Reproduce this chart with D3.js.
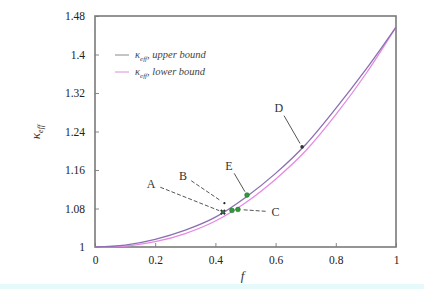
<!DOCTYPE html>
<html>
<head>
<meta charset="utf-8">
<script src="https://cdn.jsdelivr.net/npm/d3@7"></script>
<style>
  body { margin: 0; background: #fff; }
  svg text { font-family: "Liberation Serif", "DejaVu Serif", serif !important; }
</style>
</head>
<body>
<div id="chart"></div>
<script>
// Volume fraction f and effective kappa bounds
var fValues = [0, 0.1, 0.2, 0.3, 0.4, 0.5, 0.6, 0.7, 0.8, 0.9, 1];
var upperBound = [1, 1.004, 1.016, 1.035, 1.062, 1.103, 1.153, 1.213, 1.288, 1.369, 1.457];
var lowerBound = [1, 1.002, 1.011, 1.028, 1.054, 1.092, 1.141, 1.200, 1.275, 1.360, 1.457];

var xTicks = [0, 0.2, 0.4, 0.6, 0.8, 1];
var yTicks = [1, 1.08, 1.16, 1.24, 1.32, 1.4, 1.48];

// marked samples
var pointNames = ["A", "B", "C1", "C", "E", "D"];
var pointF = [0.425, 0.43, 0.455, 0.475, 0.505, 0.688];
var pointK = [1.0725, 1.091, 1.076, 1.078, 1.108, 1.208];
var pointKind = ["star", "dot", "green", "green", "green", "dark"];

// annotation labels (name -> label position in data units)
var labelNames = ["A", "B", "C", "E", "D"];
var labelF = [0.186, 0.292, 0.60, 0.445, 0.611];
var labelK = [1.131, 1.148, 1.073, 1.169, 1.289];

var margin = {top: 16, right: 28, bottom: 42, left: 95},
	width = 424 - margin.left - margin.right,
	height = 289 - margin.top - margin.bottom;

var svg = d3.select("#chart")
	.append("svg")
	.attr("width", 424)
	.attr("height", 289);

// pale strip at the bottom of the scan
svg.append("rect")
	.attr("x", 0).attr("y", 284)
	.attr("width", 424).attr("height", 5)
	.attr("fill", "#e6fafc");

var g = svg.append("g")
	.attr("transform", "translate(" + margin.left + "," + margin.top + ")");

var x = d3.scaleLinear().domain([0, 1]).range([0, width]);
var y = d3.scaleLinear().domain([1, 1.48]).range([height, 0]);

// axes with inward ticks
g.append("g")
	.attr("transform", "translate(0," + height + ")")
	.call(d3.axisBottom(x).tickValues(xTicks).tickSize(-4).tickPadding(9)
		.tickFormat(function(d) { return d3.format("")(d); }))
	.call(function(a) {
		a.attr("font-family", null);
		a.select(".domain").remove();
		a.selectAll("line").attr("stroke", "#888");
		a.selectAll("text").attr("fill", "#222").style("font-size", "11.5px");
	});

g.append("g")
	.call(d3.axisLeft(y).tickValues(yTicks).tickSize(-4).tickPadding(10)
		.tickFormat(function(d) { return d3.format("")(+d.toFixed(2)); }))
	.call(function(a) {
		a.attr("font-family", null);
		a.select(".domain").remove();
		a.selectAll("line").attr("stroke", "#888");
		a.selectAll("text").attr("fill", "#222").style("font-size", "11.5px");
	});

// frame
g.append("rect")
	.attr("width", width).attr("height", height)
	.attr("fill", "none")
	.attr("stroke", "#7a7a7a")
	.attr("stroke-width", 1.6);

// curves
var line = d3.line()
	.x(function(d) { return x(d[0]); })
	.y(function(d) { return y(d[1]); })
	.curve(d3.curveMonotoneX);

g.append("path")
	.datum(fValues.map(function(f, i) { return [f, lowerBound[i]]; }))
	.attr("d", line)
	.attr("fill", "none")
	.attr("stroke", "#e58ae6")
	.attr("stroke-width", 1.3);

g.append("path")
	.datum(fValues.map(function(f, i) { return [f, upperBound[i]]; }))
	.attr("d", line)
	.attr("fill", "none")
	.attr("stroke", "#8a70b0")
	.attr("stroke-width", 1.3);

// annotation arrows
labelNames.forEach(function(name, i) {
	var j = pointNames.indexOf(name);
	var lx = x(labelF[i]), ly = y(labelK[i]);
	var px = x(pointF[j]), py = y(pointK[j]);
	var dx = px - lx, dy = py - ly, len = Math.sqrt(dx * dx + dy * dy);
	var ux = dx / len, uy = dy / len;
	g.append("line")
		.attr("x1", lx + ux * 10).attr("y1", ly + uy * 9)
		.attr("x2", px - ux * 4).attr("y2", py - uy * 4)
		.attr("stroke", "#555")
		.attr("stroke-width", 1)
		.attr("stroke-dasharray", name == "D" || name == "E" ? null : "4,2");
	g.append("text")
		.attr("x", lx).attr("y", ly)
		.attr("text-anchor", "middle")
		.attr("dy", "0.35em")
		.attr("fill", "#333")
		.style("font-size", "12px")
		.text(name);
});

// points
pointNames.forEach(function(name, i) {
	var cx = x(pointF[i]), cy = y(pointK[i]);
	var kind = pointKind[i];
	if (kind == "green") {
		g.append("circle").attr("cx", cx).attr("cy", cy).attr("r", 2.4)
			.attr("fill", "#2f9a3a").attr("stroke", "#1d6b26").attr("stroke-width", 0.5);
	} else if (kind == "star") {
		g.append("path").attr("d", d3.symbol(d3.symbolCross, 20)())
			.attr("transform", "translate(" + cx + "," + cy + ") rotate(45)")
			.attr("fill", "#333");
		g.append("circle").attr("cx", cx).attr("cy", cy).attr("r", 1.6).attr("fill", "#2f7a3a");
	} else if (kind == "dot") {
		g.append("circle").attr("cx", cx).attr("cy", cy).attr("r", 1.1).attr("fill", "#222");
	} else {
		g.append("circle").attr("cx", cx).attr("cy", cy).attr("r", 1.8).attr("fill", "#333");
	}
});

// legend
var legend = g.append("g").attr("transform", "translate(20,39)");
var legendItems = [["upper bound", "#8a8a8a"], ["lower bound", "#d890d8"]];
legendItems.forEach(function(item, i) {
	var row = legend.append("g").attr("transform", "translate(0," + (i * 17) + ")");
	row.append("line").attr("x1", 0).attr("x2", 14).attr("y1", 0).attr("y2", 0)
		.attr("stroke", item[1]).attr("stroke-width", 1);
	var t = row.append("text").attr("x", 20).attr("y", 3)
		.attr("fill", "#444").style("font-size", "10.5px").style("font-style", "italic");
	t.append("tspan").text("κ");
	t.append("tspan").attr("dy", 3).style("font-size", "7px").text("eff");
	t.append("tspan").attr("dy", -3).text(", " + item[0]);
});

// axis titles
svg.append("text")
	.attr("x", margin.left + x(0.49))
	.attr("y", 280)
	.attr("text-anchor", "middle")
	.style("font-size", "13px").style("font-style", "italic")
	.attr("fill", "#333")
	.text("f");

var yl = svg.append("text")
	.attr("transform", "translate(40,132) rotate(-90)")
	.attr("text-anchor", "middle")
	.style("font-size", "13px").style("font-style", "italic")
	.attr("fill", "#333");
yl.append("tspan").text("κ");
yl.append("tspan").attr("dy", 3).style("font-size", "8px").text("eff");
</script>
</body>
</html>
